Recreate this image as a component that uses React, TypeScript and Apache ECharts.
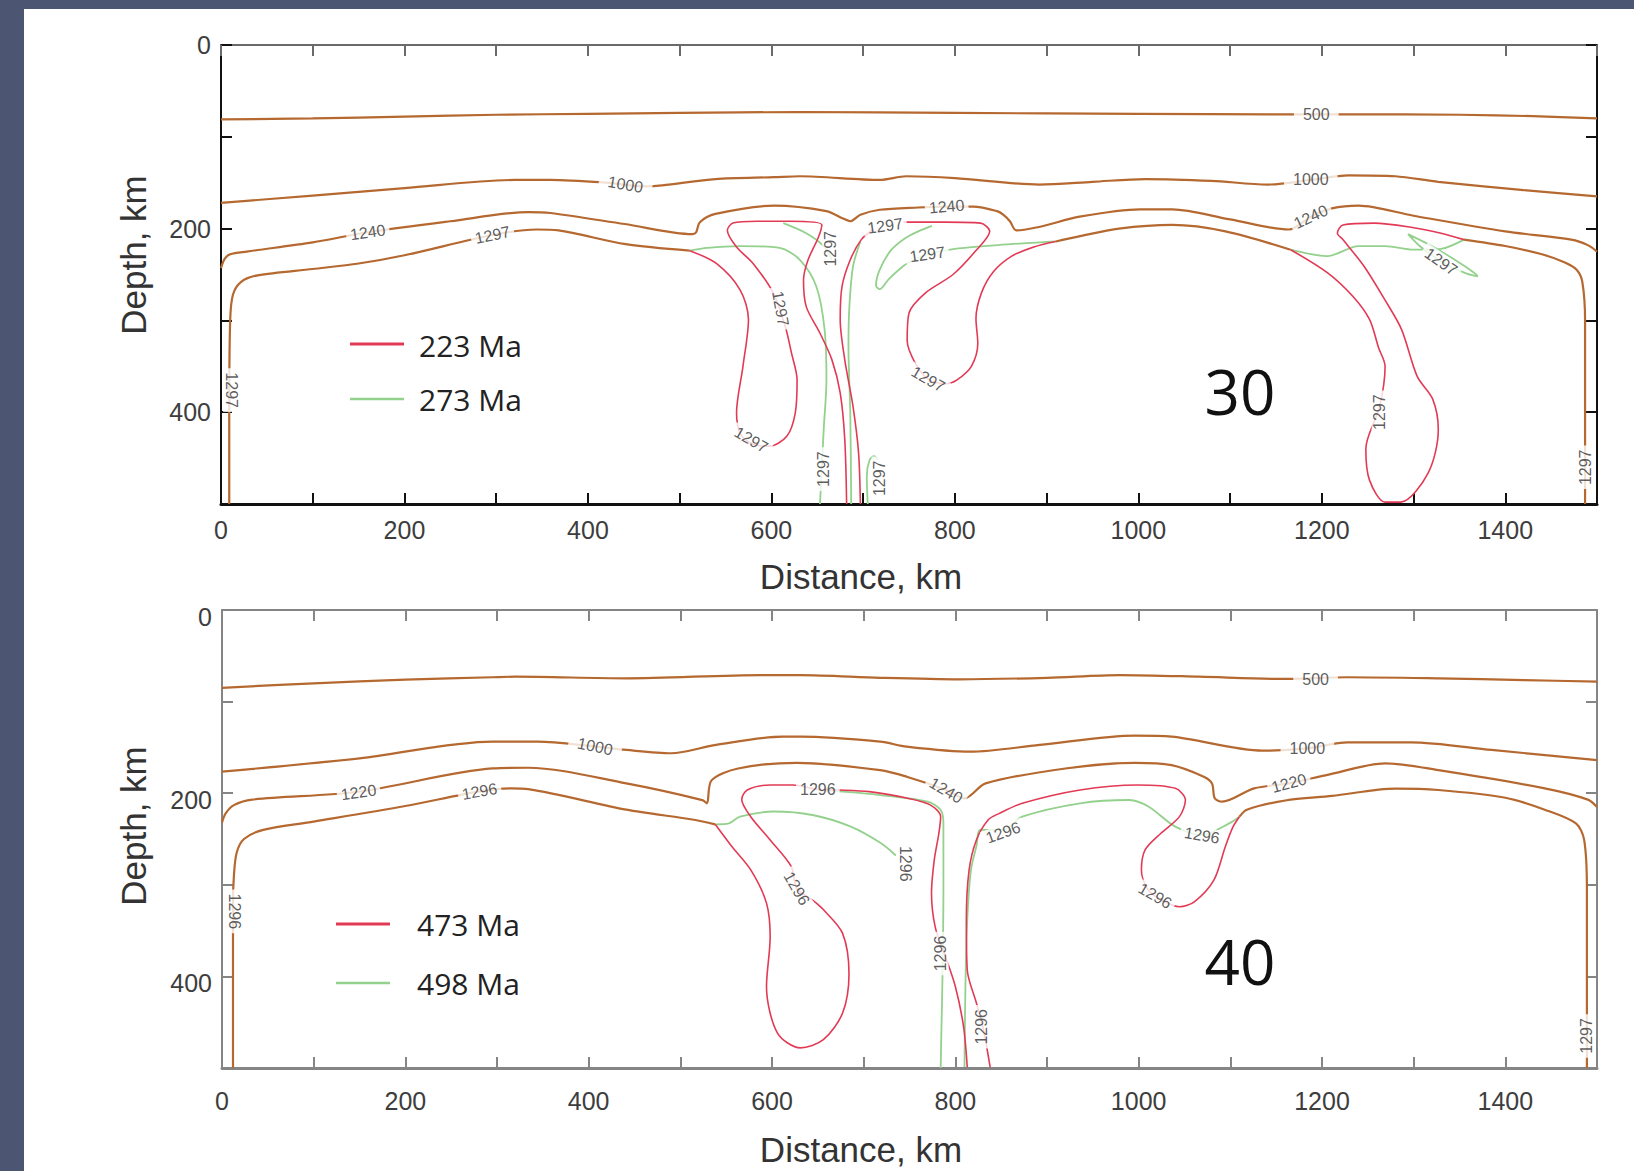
import React, { useEffect, useRef } from "react";
import * as echarts from "echarts";

// ---------- axis ticks ----------
const xTickLabels = [0, 200, 400, 600, 800, 1000, 1200, 1400];
const yTickLabels = [0, 200, 400];

// ---------- legend / panel names ----------
const topLegend = ["223 Ma", "273 Ma"];
const bottomLegend = ["473 Ma", "498 Ma"];
const panelTags = ["30", "40"];

// ---------- TOP PANEL contours [distance km, depth km] ----------
const top500 = [[0,81],[100,80],[200,78],[300,76],[400,75],[500,74],[630,73],[800,74],[1000,75],[1153,75.5],[1229,75.5],[1350,76],[1430,77.5],[1500,80]];
const top1000 = [[0,172],[100,164],[200,156],[320,147],[359,147],[420,150],[462,154],[481,153],[539,146],[603,144],[631,143],[718,147],[747,143],[800,145],[892,152],[950,149],[1008,146],[1080,148],[1141,152],[1188,147],[1229,142],[1280,143],[1327,149],[1420,158],[1500,165]];
const top1240 = [[0,243],[4,233],[10,228],[28,225],[100,215],[160,204],[250,192],[335,182],[359,183],[440,195],[514,206],[518,204],[522,193],[539,184],[603,175],[660,181],[678,189],[686,192],[697,185],[718,179.5],[760,177],[791,176],[820,176],[846,181],[853,185],[860,192],[867,202],[893,198],[936,187],[1002,179],[1037,179],[1100,190],[1164,201],[1188,187],[1211,178],[1240,175],[1300,186],[1400,203],[1472,212],[1490,218],[1500,225]];
const top1297Left = [[9,500],[9,400],[10,300],[13,272],[22,258],[40,251],[100,244],[150,238],[200,229],[296,207],[344,201],[368,202],[441,217],[511,224]];
const topRedTearA = [[511,224],[540,238],[566,267],[575,299],[569,350],[562,401],[566,423],[578,434],[598,437],[617,426],[626,401],[628,365],[622,336],[615,306],[602,270],[580,238],[562,220],[552,202],[558,194],[584,192],[620,192],[655,196],[651,210],[640,234],[635,256],[638,285],[653,314],[666,343],[675,379],[680,430],[682,500]];
const topGreenA = [[511,224],[530,221],[566,219],[609,221],[631,234],[649,263],[658,310],[660,365],[657,419],[653,500]];
const topGreenShort = [[613,194],[638,205],[657,219],[666,234]];
const topGreenCenter = [[697,214],[689,241],[685,285],[684,328],[686,401],[687,500]];
const topRedB = [[711,201],[698,212],[686,234],[677,263],[675,299],[680,343],[689,394],[695,444],[697,500]];
const topRedTearB = [[744,193],[790,193],[828,194],[838,203],[822,225],[798,250],[768,270],[750,292],[748,322],[757,347],[771,364],[790,369],[802,365],[818,350],[825,325],[823,298],[829,270],[842,247],[862,230],[886,220],[910,214]];
const topGreenHook = [[775,197],[760,203],[745,211],[730,224],[718,245],[714,262],[718,266],[728,255],[745,240],[758,233],[770,228],[800,222],[860,217],[893,215],[910,214]];
const topGreenSmall = [[705,500],[704,470],[707,452],[712,448],[716,452]];
const top1297Mid = [[910,214],[933,209],[979,200],[1037,196],[1095,203],[1166,223]];
const topRedBig = [[1166,223],[1206,248],[1234,274],[1252,299],[1262,330],[1269,350],[1263,394],[1248,440],[1252,474],[1269,498],[1286,498],[1316,466],[1327,419],[1321,386],[1304,361],[1287,310],[1269,278],[1246,241],[1223,212],[1217,205],[1223,196],[1257,194],[1300,199],[1330,205],[1355,212]];
const topGreenRight = [[1166,223],[1206,230],[1240,219],[1269,219],[1300,223],[1330,222],[1355,212]];
const topGreenLoop = [[1294,206],[1318,218],[1345,234],[1366,248],[1370,252],[1358,249],[1334,238],[1308,220],[1294,206]];
const top1297Right = [[1355,212],[1400,219],[1440,228],[1465,237],[1478,245],[1484,258],[1487,300],[1487,500]];

const topLabelText = ["500","1000","1000","1240","1240","1240","1297","1297","1297","1297","1297","1297","1297","1297","1297","1297","1297","1297","1297"];
const topLabelPos = [[1194,76],[441,152],[1188,147],[160,204],[791,176],[1188,187],[11,376],[296,207],[578,430],[610,287],[664,222],[724,197],[770,228],[771,364],[657,462],[718,472],[1263,400],[1330,236],[1487,460]];
const topLabelRot = [0,-10,0,8,5,25,-90,12,-30,-80,90,8,8,-30,90,90,90,-35,90];

// ---------- BOTTOM PANEL contours ----------
const bot500 = [[0,85],[100,80],[200,76],[295,73.4],[320,72.8],[441,74.6],[588,71],[631,71],[718,74],[805,75.7],[900,74],[979,71],[1066,72.8],[1153,75.3],[1228,73.4],[1327,74.6],[1420,76.5],[1500,78.2]];
const bot1000 = [[0,176.5],[150,162],[295,143.7],[344,143.7],[407,149],[441,152.8],[490,156.4],[539,147.3],[612,138.3],[631,138.3],[718,143.7],[747,149.2],[816,154.7],[892,147.3],[996,137.2],[1036,138.3],[1135,153.6],[1184,151],[1228,144.5],[1297,144.5],[1385,152.8],[1500,163.8]];
const bot1220 = [[0,232],[4,222],[13,213],[33,207],[149,198.4],[295,173],[334,172.2],[441,189.3],[524,207.5],[529,211],[534,186],[563,173],[627,166.8],[718,174.8],[747,182],[790,196.5],[810,205.6],[833,189.3],[920,173],[996,166.8],[1036,169.4],[1071,182],[1080,189.3],[1083,205.6],[1091,209.3],[1126,194.7],[1164,189.3],[1205,180.2],[1269,167.4],[1327,174.8],[1443,194.7],[1490,207],[1500,215]];
const bot1296Left = [[12,500],[12,320],[13,290],[16,265],[24,250],[45,240],[100,231],[200,214],[281,198],[315,194.7],[334,195.5],[441,218],[515,229],[538,234]];
const botRedTear = [[538,234],[556,258],[577,284],[594,320],[598,357],[594,411],[606,462],[631,478],[656,469],[677,440],[684,397],[677,353],[656,327],[646,318],[627,304],[621,280],[598,251],[577,226],[567,207],[573,196.5],[598,191],[623,191],[650,196],[673,196.5],[706,198.3],[748,205.6],[773,213],[784,225.6],[782,244],[777,273],[774,309],[778,346],[788,375],[800,411],[809,455],[813,499]];
const botGreenLeft = [[538,234],[553,233],[565,225.6],[602,220],[644,223.8],[686,236.5],[719,254.7],[735,268]];
const botGreenTop = [[650,197],[677,198.3],[718,202],[770,209.3],[784,218.3],[787,233],[787,306],[786,400],[785,450],[784,500]];
const botRedCenter = [[838,499],[830,455],[823,429],[813,393],[812,338],[815,284],[823,251],[836,229],[848,222],[873,211],[936,196.5],[999,191],[1040,194.7],[1051,207.4],[1044.5,225.6],[1024,244],[1007,262],[1003,284],[1010,305],[1024,316],[1044.5,324],[1061,318.4],[1082,295],[1094.5,258.4],[1103,236.5],[1110,225.6]];
const botGreenCenter = [[810,499],[811,411],[813,338],[817,284],[823,258],[827.5,240],[852,240],[873,225.6],[936,211],[990,207.4],[1011,214.7],[1040,236.5],[1069.5,245.6],[1098.7,232.9],[1110,225.6]];
const bot1296Right = [[1110,225.6],[1118,218],[1160,208],[1211,203],[1280,195],[1327,196.5],[1400,205],[1443,218],[1477,233],[1486,251],[1489,306],[1489,500]];

const botLabelText = ["500","1000","1000","1220","1240","1220","1296","1296","1296","1296","1296","1296","1296","1296","1296","1296","1297"];
const botLabelPos = [[1193,75.7],[407,149],[1184,151],[149,199],[790,197],[1164,189],[281,198],[650,196],[627,304],[746,277],[784,375],[852,243],[1069,246],[1018,312],[829,455],[14,329],[1488,465]];
const botLabelRot = [0,-12,0,8,-30,15,10,0,-60,-90,90,20,-10,-30,90,-90,90];

const RED = "#e23a55";
const GREEN = "#93d18d";
const BROWN = "#b5682f";
const FONT = "'Liberation Sans', Arial, sans-serif";
const LEGEND_FONT = "'Open Sans', 'Noto Sans', sans-serif";

export default function App() {
  const ref = useRef<HTMLDivElement>(null);

  useEffect(() => {
    const chart = echarts.init(ref.current!, null, { renderer: "svg" });

    const makeLine = (data: number[][], color: string, width: number, panel: number, z: number) => ({
      type: "line",
      data,
      xAxisIndex: panel * 2,
      yAxisIndex: panel * 2,
      showSymbol: false,
      symbol: "none",
      smooth: 0.3,
      silent: true,
      z,
      lineStyle: { color, width },
    });

    const makeLabels = (texts: string[], pos: number[][], rot: number[], panel: number) => ({
      type: "scatter",
      xAxisIndex: panel * 2,
      yAxisIndex: panel * 2,
      symbolSize: 0.1,
      silent: true,
      z: 10,
      itemStyle: { color: "rgba(0,0,0,0)" },
      label: {
        show: true,
        position: "inside",
        fontSize: 16,
        fontFamily: FONT,
        color: "#333333",
        backgroundColor: "#ffffff",
        padding: [0, 4],
      },
      data: texts.map((t, i) => ({
        value: pos[i],
        label: { formatter: t, rotate: rot[i], padding: t === "500" || t === "1000" ? [0, 9] : [0, 4] },
      })),
    });

    const axisSet = (grid: number, strong: string, weak: string, bottomW: number, labelMargin: number, shiftDown: boolean) => {
      const xFmt = (v: number) => (xTickLabels.includes(v) ? String(v) : "");
      const yFmt = (v: number) => (yTickLabels.includes(v) ? String(v) : "");
      const tick = (c: string) => ({ show: true, inside: true, length: 11, lineStyle: { color: c, width: 2 } });
      const yLabel: any = { show: true, margin: 10, fontSize: 25, fontFamily: FONT, color: "#3d3d3d", formatter: yFmt };
      if (shiftDown) {
        yLabel.verticalAlign = "top";
        yLabel.lineHeight = 14;
      }
      const xs = [
        {
          gridIndex: grid, type: "value", min: 0, max: 1500, interval: 100, position: "bottom",
          axisLine: { show: true, onZero: false, lineStyle: { color: strong, width: bottomW } },
          axisTick: tick(strong),
          axisLabel: { show: true, margin: labelMargin, fontSize: 25, fontFamily: FONT, color: "#3d3d3d", formatter: xFmt, showMaxLabel: true, showMinLabel: true },
          splitLine: { show: false },
        },
        {
          gridIndex: grid, type: "value", min: 0, max: 1500, interval: 100, position: "top",
          axisLine: { show: true, onZero: false, lineStyle: { color: weak, width: 2 } },
          axisTick: tick(weak),
          axisLabel: { show: false },
          splitLine: { show: false },
        },
      ];
      const ys = [
        {
          gridIndex: grid, type: "value", min: 0, max: 500, interval: 100, inverse: true, position: "left",
          axisLine: { show: true, onZero: false, lineStyle: { color: strong, width: 2 } },
          axisTick: tick(strong),
          axisLabel: yLabel,
          splitLine: { show: false },
        },
        {
          gridIndex: grid, type: "value", min: 0, max: 500, interval: 100, inverse: true, position: "right",
          axisLine: { show: true, onZero: false, lineStyle: { color: strong, width: 2 } },
          axisTick: tick(strong),
          axisLabel: { show: false },
          splitLine: { show: false },
        },
      ];
      return { xs, ys };
    };

    const a0 = axisSet(0, "#111111", "#6a6a6a", 3, 13, false);
    const a1 = axisSet(1, "#858585", "#858585", 3, 20, true);

    const series: any[] = [
      // top panel
      makeLine(top500, BROWN, 2.2, 0, 3),
      makeLine(top1000, BROWN, 2.2, 0, 3),
      makeLine(top1240, BROWN, 2.2, 0, 3),
      makeLine(top1297Left, BROWN, 2.2, 0, 3),
      makeLine(topGreenA, GREEN, 1.8, 0, 2),
      makeLine(topGreenShort, GREEN, 1.8, 0, 2),
      makeLine(topGreenCenter, GREEN, 1.8, 0, 2),
      makeLine(topGreenHook, GREEN, 1.8, 0, 2),
      makeLine(topGreenSmall, GREEN, 1.8, 0, 2),
      makeLine(topGreenRight, GREEN, 1.8, 0, 2),
      makeLine(topGreenLoop, GREEN, 1.8, 0, 2),
      makeLine(topRedTearA, RED, 1.6, 0, 4),
      makeLine(topRedB, RED, 1.6, 0, 4),
      makeLine(topRedTearB, RED, 1.6, 0, 4),
      makeLine(topRedBig, RED, 1.6, 0, 4),
      makeLine(top1297Mid, BROWN, 2.2, 0, 3),
      makeLine(top1297Right, BROWN, 2.2, 0, 3),
      makeLabels(topLabelText, topLabelPos, topLabelRot, 0),
      // bottom panel
      makeLine(bot500, BROWN, 2.2, 1, 3),
      makeLine(bot1000, BROWN, 2.2, 1, 3),
      makeLine(bot1220, BROWN, 2.2, 1, 3),
      makeLine(bot1296Left, BROWN, 2.2, 1, 3),
      makeLine(botGreenLeft, GREEN, 1.8, 1, 2),
      makeLine(botGreenTop, GREEN, 1.8, 1, 2),
      makeLine(botGreenCenter, GREEN, 1.8, 1, 2),
      makeLine(botRedTear, RED, 1.6, 1, 4),
      makeLine(botRedCenter, RED, 1.6, 1, 4),
      makeLine(bot1296Right, BROWN, 2.2, 1, 3),
      makeLabels(botLabelText, botLabelPos, botLabelRot, 1),
    ];

    const txt = (text: string, x: number, y: number, size: number, family: string, color: string, align = "center", rotation = 0) => ({
      type: "text",
      x,
      y,
      rotation,
      z: 20,
      style: { text, fontSize: size, fontFamily: family, fill: color, textAlign: align, textVerticalAlign: "middle", verticalAlign: "middle" },
    });
    const legLine = (x1: number, x2: number, y: number, color: string, w: number) => ({
      type: "line",
      z: 20,
      shape: { x1, y1: y, x2, y2: y },
      style: { stroke: color, lineWidth: w },
    });

    const option: any = {
      animation: false,
      backgroundColor: "#4c5571",
      grid: [
        { left: 221, top: 45, width: 1376, height: 459, containLabel: false },
        { left: 222, top: 610, width: 1375, height: 458, containLabel: false },
      ],
      xAxis: [...a0.xs, ...a1.xs],
      yAxis: [...a0.ys, ...a1.ys],
      series,
      graphic: [
        { type: "rect", z: -100, shape: { x: 24, y: 9, width: 1610, height: 1162 }, style: { fill: "#ffffff" } },
        txt("Distance, km", 861, 576, 35, FONT, "#333333"),
        txt("Distance, km", 861, 1149, 35, FONT, "#333333"),
        txt("Depth, km", 133, 255, 35, FONT, "#333333", "center", Math.PI / 2),
        txt("Depth, km", 133, 826, 35, FONT, "#333333", "center", Math.PI / 2),
        legLine(350, 404, 344, RED, 3),
        legLine(350, 404, 399, GREEN, 2.5),
        txt(topLegend[0], 419, 345, 30, LEGEND_FONT, "#222222", "left"),
        txt(topLegend[1], 419, 399, 30, LEGEND_FONT, "#222222", "left"),
        legLine(336, 390, 924, RED, 3),
        legLine(336, 390, 983, GREEN, 2.5),
        txt(bottomLegend[0], 417, 924, 30, LEGEND_FONT, "#222222", "left"),
        txt(bottomLegend[1], 417, 983, 30, LEGEND_FONT, "#222222", "left"),
        txt(panelTags[0], 1240, 391, 62, LEGEND_FONT, "#111111"),
        txt(panelTags[1], 1240, 961, 62, LEGEND_FONT, "#111111"),
      ],
    };

    chart.setOption(option);
    return () => chart.dispose();
  }, []);

  return <div ref={ref} style={{ position: "absolute", left: 0, top: 0, width: 1634, height: 1171 }} />;
}
